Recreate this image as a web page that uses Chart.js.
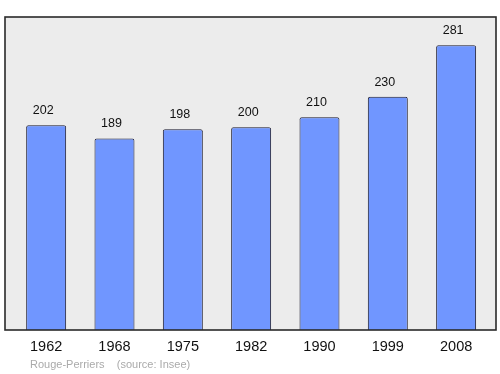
<!DOCTYPE html>
<html>
<head>
<meta charset="utf-8">
<script src="https://cdn.jsdelivr.net/npm/chart.js@4/dist/chart.umd.min.js"></script>
<style>
  html, body { margin: 0; padding: 0; background: #fff; }
  #wrap { width: 500px; height: 374px; position: relative; }
</style>
</head>
<body>
<div id="wrap"><canvas id="plot" width="500" height="374"></canvas></div>
<script>
const years = ['1962', '1968', '1975', '1982', '1990', '1999', '2008'];
const population = [202, 189, 198, 200, 210, 230, 281];
const sourceText = 'Rouge-Perriers    (source: Insee)';

// frame of the plot (a bit wider than the bar area)
const box = { left: 5, top: 17, right: 496, bottom: 330 };

// draws the gray box, value labels, year labels and source line
const decor = {
  id: 'decor',
  beforeDatasetsDraw(chart) {
    const { ctx } = chart;
    ctx.save();
    ctx.fillStyle = '#ececec';
    ctx.fillRect(box.left, box.top, box.right - box.left, box.bottom - box.top);
    ctx.restore();
  },
  afterDatasetsDraw(chart) {
    const { ctx, scales } = chart;
    ctx.save();
    ctx.strokeStyle = '#2a2a2a';
    ctx.lineWidth = 1.6;
    ctx.strokeRect(box.left, box.top, box.right - box.left, box.bottom - box.top);

    ctx.fillStyle = '#111';
    ctx.textAlign = 'center';
    ctx.textBaseline = 'middle';
    ctx.font = '12.5px "Liberation Sans", Arial, sans-serif';
    population.forEach((v, i) => {
      const x = scales.x.getPixelForValue(i) - 3;
      const y = scales.y.getPixelForValue(v);
      ctx.fillText(String(v), x, y - 14.5);
    });

    ctx.font = '14.5px "Liberation Sans", Arial, sans-serif';
    years.forEach((yr, i) => {
      ctx.fillText(yr, scales.x.getPixelForValue(i), box.bottom + 17);
    });

    ctx.fillStyle = '#aaa';
    ctx.textAlign = 'left';
    ctx.font = '11px "Liberation Sans", Arial, sans-serif';
    ctx.fillText(sourceText, 30, 364.5);
    ctx.restore();
  }
};

new Chart(document.getElementById('plot'), {
  type: 'bar',
  data: {
    labels: years,
    datasets: [{
      data: population,
      backgroundColor: 'rgb(112,150,255)',
      borderColor: '#1a1a2e',
      borderWidth: 1,
      borderSkipped: 'bottom',
      borderRadius: { topLeft: 2, topRight: 2 },
      categoryPercentage: 1,
      barPercentage: 0.585
    }]
  },
  options: {
    responsive: false,
    animation: false,
    layout: { padding: { left: 12, right: 9.7, top: 17, bottom: 44 } },
    plugins: { legend: { display: false }, tooltip: { enabled: false } },
    scales: {
      x: { display: false },
      y: { display: false, min: 0, max: 308.8 }
    }
  },
  plugins: [decor]
});
</script>
</body>
</html>
